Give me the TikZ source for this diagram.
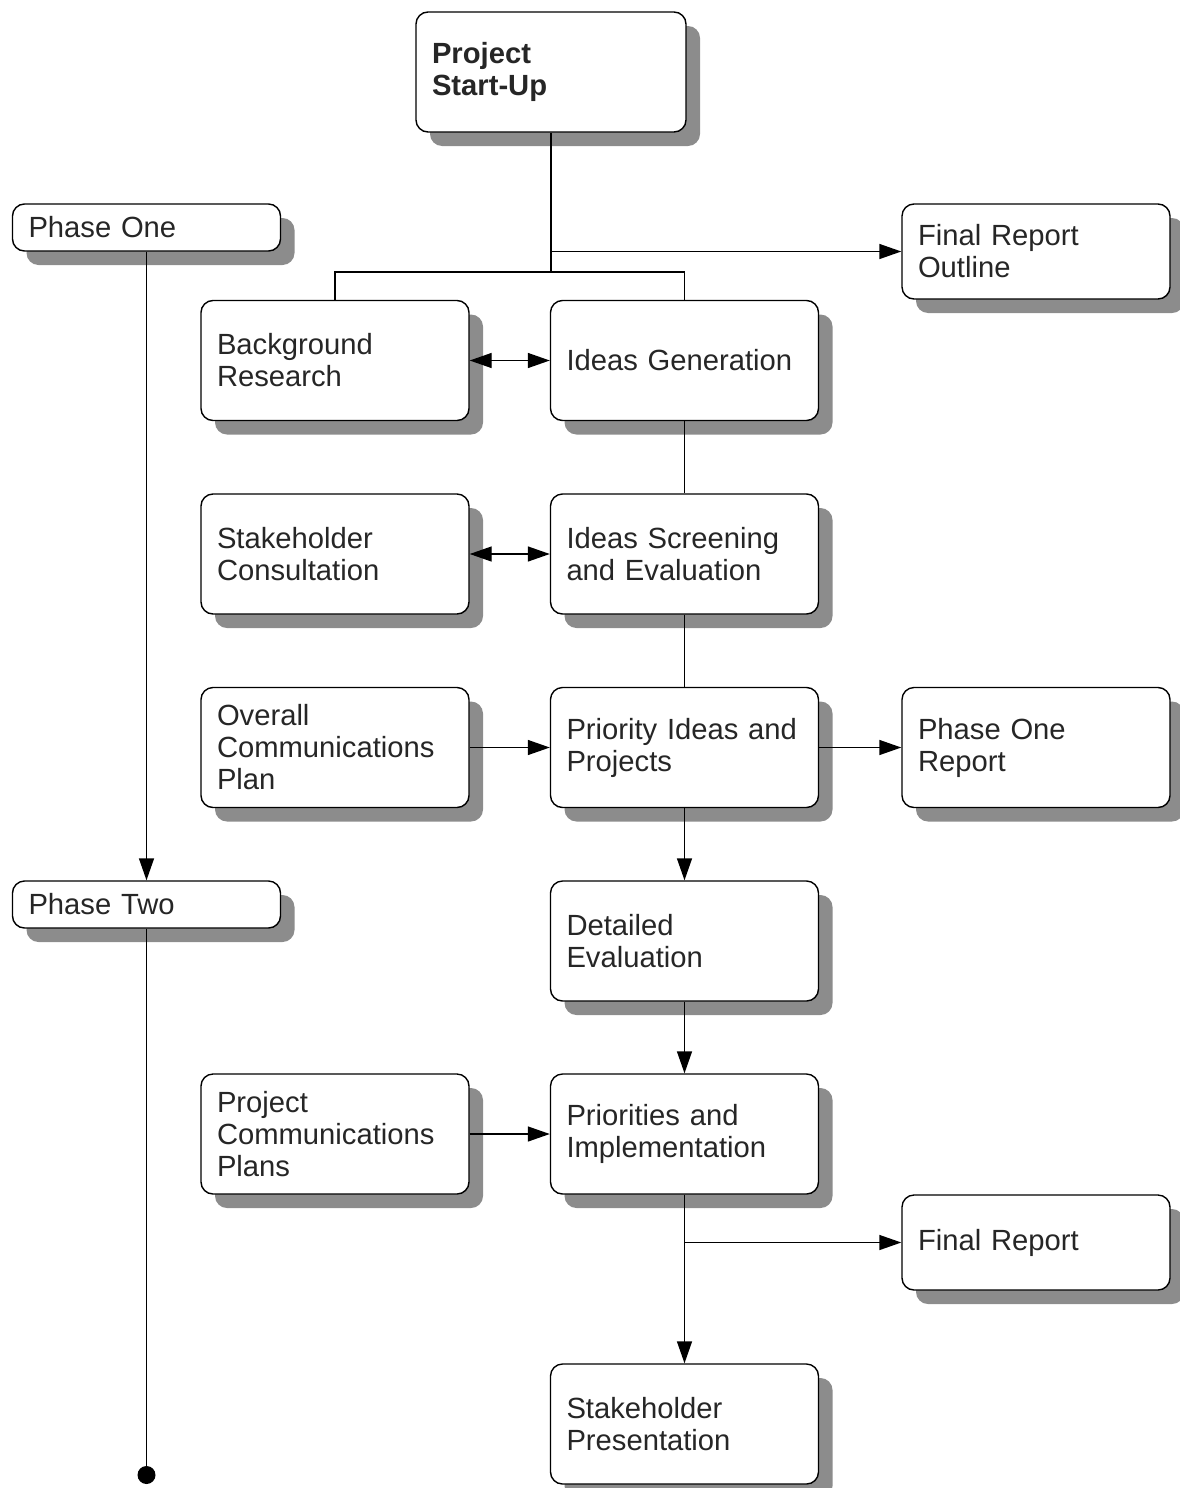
\documentclass[tikz,border=0pt]{standalone}
\usepackage{fontspec}
\setmainfont{Liberation Sans}
\usepackage{tikz}
\usetikzlibrary{arrows.meta,shadows}

\begin{document}
\begin{tikzpicture}[x=0.5pt,y=-0.5pt,
    stepbox/.style={draw,line width=0.7pt,rounded corners=6pt,fill=white,
      drop shadow={shadow xshift=7pt,shadow yshift=-7pt,fill=black!45,opacity=1},
      minimum width=134pt,minimum height=60pt,text width=118pt,inner xsep=8pt,
      align=left,text=black!85,font=\fontsize{14.6pt}{16pt}\selectfont},
    shortbox/.style={stepbox,minimum height=47.5pt},
    phasebox/.style={stepbox,minimum height=23.5pt,inner ysep=2pt},
    arr/.style={-{Triangle[length=11pt,width=7.5pt]}},
    arrboth/.style={{Triangle[length=11pt,width=7.5pt]}-{Triangle[length=11pt,width=7.5pt]}},
    line width=0.7pt]
    \useasboundingbox (0,0) rectangle (1179,1488);

    % main column
    \node[stepbox,minimum width=135pt,text width=119pt,font=\fontsize{14.6pt}{16pt}\selectfont\bfseries] (start) at (551,72) {Project\\Start-Up};
    \node[stepbox] (gen) at (684.5,360.5) {Ideas Generation};
    \node[stepbox] (screen) at (684.5,554) {Ideas Screening\\and Evaluation};
    \node[stepbox] (prio) at (684.5,747.5) {Priority Ideas and\\Projects};
    \node[stepbox] (detail) at (684.5,941) {Detailed\\Evaluation};
    \node[stepbox] (impl) at (684.5,1134) {Priorities and\\Implementation};
    \node[stepbox] (pres) at (684.5,1424) {Stakeholder\\Presentation};

    % inputs on the left
    \node[stepbox] (bg) at (335,360.5) {Background\\Research};
    \node[stepbox] (stake) at (335,554) {Stakeholder\\Consultation};
    \node[stepbox] (comm) at (335,747.5) {Overall\\Communications\\Plan};
    \node[stepbox] (pcp) at (335,1134) {Project\\Communications\\Plans};

    % reports on the right
    \node[shortbox] (fro) at (1036,251.5) {Final Report\\Outline};
    \node[stepbox] (por) at (1036,747.5) {Phase One\\Report};
    \node[shortbox] (fr) at (1036,1242.5) {Final Report};

    % phases
    \node[phasebox] (one) at (146.5,227.5) {Phase One};
    \node[phasebox] (two) at (146.5,904.5) {Phase Two};
    \coordinate (end) at (146.5,1475);

    \draw (start.south) -- (start.south |- 0,272);
    \draw (bg.north) -- ++(0,-28) -| (gen.north);
    \draw[arr] (start.south |- fro.west) -- (fro.west);
    \draw[arrboth] (bg) -- (gen);
    \draw (gen) -- (screen);
    \draw[arrboth] (stake) -- (screen);
    \draw (screen) -- (prio);
    \draw[arr] (comm) -- (prio);
    \draw[arr] (prio) -- (por);
    \draw[arr] (prio) -- (detail);
    \draw[arr] (detail) -- (impl);
    \draw[arr] (pcp) -- (impl);
    \draw[arr] (impl) -- (pres);
    \draw[arr] (impl.south |- fr.west) -- (fr.west);

    \draw[arr] (one) -- (two);
    \draw (two) -- (end);
    \fill (end) circle (4.5pt);
\end{tikzpicture}
\end{document}
